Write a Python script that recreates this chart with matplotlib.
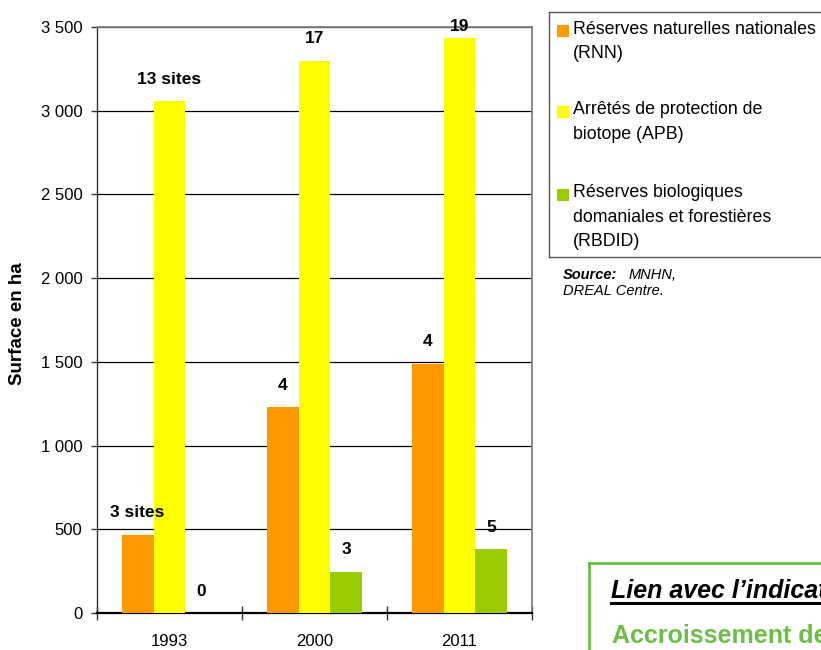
import matplotlib
matplotlib.use("Agg")
import matplotlib.pyplot as plt
from matplotlib.patches import Rectangle
from matplotlib.lines import Line2D
import numpy as np

plt.rcParams['font.family'] = ['Liberation Sans', 'DejaVu Sans']

# ---- data ----
years = ["1993", "2000", "2011"]
series_names = ["Réserves naturelles nationales\n(RNN)",
                "Arrêtés de protection de\nbiotope (APB)",
                "Réserves biologiques\ndomaniales et forestières\n(RBDID)"]
rnn = [466, 1230, 1489]
apb = [3058, 3297, 3435]
rbdid = [0, 245, 382]
rnn_labels = ["3 sites", "4", "4"]
apb_labels = ["13 sites", "17", "19"]
rbdid_labels = ["0", "3", "5"]
yticks = [0, 500, 1000, 1500, 2000, 2500, 3000, 3500]
ytick_labels = ["0", "500", "1 000", "1 500", "2 000", "2 500", "3 000", "3 500"]
colors = ["#FF9900", "#FFFF00", "#99CC00"]

W, H = 821, 650
fig = plt.figure(figsize=(W / 100, H / 100), dpi=100)

def fx(px):
    return px / W

def fy(py):
    return 1 - py / H

ax = fig.add_axes([fx(97), fy(613), fx(532) - fx(97), fy(27) - fy(613)])

x = np.arange(len(years))
w = 0.22
all_series = [rnn, apb, rbdid]
all_labels = [rnn_labels, apb_labels, rbdid_labels]
for i, (vals, col) in enumerate(zip(all_series, colors)):
    ax.bar(x + (i - 1) * w, vals, width=w, color=col, edgecolor='none', zorder=3)

ax.set_xlim(-0.5, 2.5)
ax.set_ylim(0, 3500)

# value labels
pad_data = 22 * 3500 / 586
for i, (vals, labs) in enumerate(zip(all_series, all_labels)):
    for xi, v, lab in zip(x, vals, labs):
        yy = min(v + pad_data, 3500)
        ax.text(xi + (i - 1) * w, yy, lab, ha='center', va='center',
                fontsize=12.5, fontweight='bold', zorder=5, clip_on=False)

# grid
ax.set_yticks(yticks)
ax.set_yticklabels(ytick_labels, fontsize=12)
ax.yaxis.grid(True, color='black', linewidth=0.9, zorder=1)
ax.set_axisbelow(True)
ax.tick_params(axis='y', direction='out', length=4, width=1, pad=6.5, color='#333333')

# x ticks: boundaries as major, labels at minor
ax.set_xticks([-0.5, 0.5, 1.5, 2.5])
ax.set_xticklabels([])
ax.set_xticks(x, minor=True)
ax.set_xticklabels(years, minor=True, fontsize=12)
ax.tick_params(axis='x', which='major', direction='inout', length=9.5, width=1, color='#333333')
ax.tick_params(axis='x', which='minor', length=0, pad=15)

for s in ['top', 'right']:
    ax.spines[s].set_color('#808080')
    ax.spines[s].set_linewidth(1.3)
ax.spines['left'].set_color('#333333')
ax.spines['left'].set_linewidth(1.0)
ax.spines['bottom'].set_color('black')
ax.spines['bottom'].set_linewidth(1.6)

fig.text(fx(18), fy(324), "Surface en ha", rotation=90, ha='center', va='center',
         fontsize=13.5, fontweight='bold')

# ---- legend box ----
lw_box = 1.0
fig.add_artist(Line2D([fx(549), 1.0], [fy(12), fy(12)], color='#555555', lw=lw_box))
fig.add_artist(Line2D([fx(549), fx(549)], [fy(12), fy(257)], color='#555555', lw=lw_box))
fig.add_artist(Line2D([fx(549), 1.0], [fy(257), fy(257)], color='#555555', lw=lw_box))

first_line_y = [29, 110, 193]
line_step = 24.5
for name, col, y0 in zip(series_names, colors, first_line_y):
    fig.add_artist(Rectangle((fx(557), fy(y0 + 2 + 6)), fx(12), 12 / H,
                             transform=fig.transFigure, facecolor=col, edgecolor='none'))
    for k, line in enumerate(name.split("\n")):
        fig.text(fx(573), fy(y0 + k * line_step), line, ha='left', va='center', fontsize=12.8)

# source
fig.text(fx(563), fy(275), "Source:", ha='left', va='center', fontsize=10.5,
         fontweight='bold', fontstyle='italic')
fig.text(fx(629), fy(275), "MNHN,", ha='left', va='center', fontsize=10.5, fontstyle='italic')
fig.text(fx(563), fy(291), "DREAL Centre.", ha='left', va='center', fontsize=10.5,
         fontstyle='italic')

# ---- indicator box (bottom right, cut off at the figure edge as in the source) ----
green = '#6CBF46'
fig.add_artist(Line2D([fx(589), 1.0], [fy(563), fy(563)], color=green, lw=2))
fig.add_artist(Line2D([fx(589), fx(589)], [fy(563), 0.0], color=green, lw=2))
fig.text(fx(611), fy(598), "Lien avec l’indicateur", ha='left', va='baseline',
         fontsize=18, fontweight='bold', fontstyle='italic')
fig.add_artist(Line2D([fx(611), 1.0], [fy(603), fy(603)], color='black', lw=2.2))
fig.text(fx(612), fy(643), "Accroissement des espaces protégés", ha='left',
         va='baseline', fontsize=18, fontweight='bold', color=green)

fig.savefig("out.png", dpi=100)
